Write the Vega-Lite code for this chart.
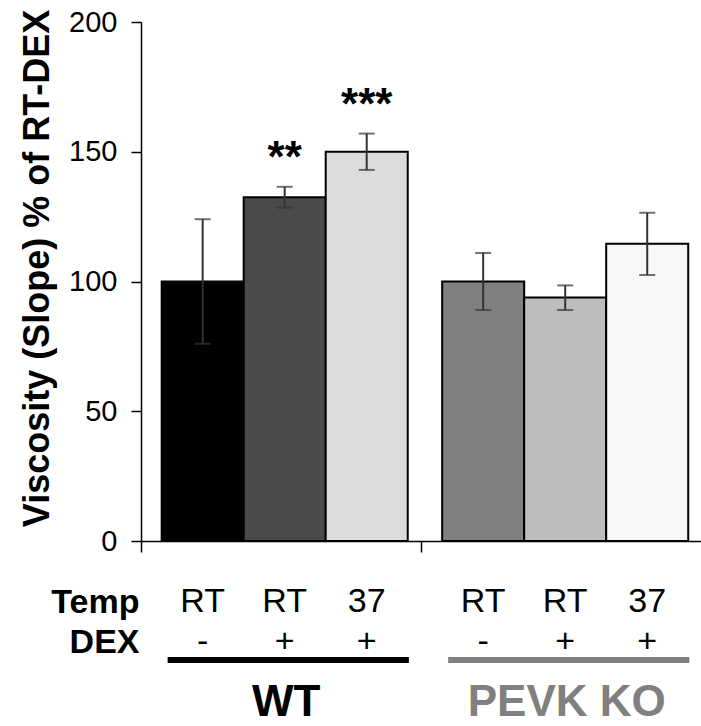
{
  "$schema": "https://vega.github.io/schema/vega-lite/v6.json",
  "background": "white",
  "padding": {"left": 18, "top": 8, "right": 0, "bottom": 0},
  "config": {
    "view": {"stroke": null},
    "font": "Liberation Sans",
    "axis": {"labelFont": "Liberation Sans", "titleFont": "Liberation Sans", "grid": false},
    "text": {"font": "Liberation Sans"}
  },
  "datasets": {
    "bars": [
      {"group": "WT", "cond": "RT-", "id": "WT RT-", "temp": "RT", "dex": "-", "mean": 100, "lo": 76, "hi": 124, "sig": ""},
      {"group": "WT", "cond": "RT+", "id": "WT RT+", "temp": "RT", "dex": "+", "mean": 132.5, "lo": 128.5, "hi": 136.5, "sig": "**"},
      {"group": "WT", "cond": "37+", "id": "WT 37+", "temp": "37", "dex": "+", "mean": 150, "lo": 143, "hi": 157, "sig": "***"},
      {"group": "PEVK KO", "cond": "RT-", "id": "KO RT-", "temp": "RT", "dex": "-", "mean": 100, "lo": 89, "hi": 111, "sig": ""},
      {"group": "PEVK KO", "cond": "RT+", "id": "KO RT+", "temp": "RT", "dex": "+", "mean": 93.8, "lo": 89, "hi": 98.5, "sig": ""},
      {"group": "PEVK KO", "cond": "37+", "id": "KO 37+", "temp": "37", "dex": "+", "mean": 114.5, "lo": 102.5, "hi": 126.5, "sig": ""}
    ],
    "groups": [
      {"group": "WT"},
      {"group": "PEVK KO"}
    ]
  },
  "bounds": "flush",
  "spacing": 36,
  "resolve": {"scale": {"color": "independent"}},
  "vconcat": [
    {
      "width": 561,
      "height": 519,
      "data": {"name": "bars"},
      "encoding": {
        "x": {"field": "group", "type": "nominal", "sort": ["WT", "PEVK KO"],
              "scale": {"domain": ["WT", "PEVK KO"], "paddingInner": 0, "paddingOuter": 0},
              "axis": {"title": null, "labels": false, "bandPosition": 0, "domainColor": "black", "domainWidth": 1.5, "tickColor": "black", "tickWidth": 1.5, "tickSize": 11}},
        "xOffset": {"field": "cond", "type": "nominal", "sort": ["RT-", "RT+", "37+"],
                    "scale": {"domain": ["RT-", "RT+", "37+"], "paddingInner": 0, "paddingOuter": 0.21, "align": 0.6}}
      },
      "layer": [
        {
          "mark": {"type": "bar", "stroke": "black", "strokeWidth": 2},
          "encoding": {
            "y": {"field": "mean", "type": "quantitative",
                  "scale": {"domain": [0, 200], "nice": false, "zero": true},
                  "title": "Viscosity (Slope) % of RT-DEX",
                  "axis": {"title": "Viscosity (Slope) % of RT-DEX", "values": [0, 50, 100, 150, 200],
                           "domainColor": "black", "domainWidth": 1.5, "tickColor": "black", "tickWidth": 1.5, "tickSize": 10,
                           "labelFontSize": 29, "labelColor": "black", "labelPadding": 14,
                           "titleFontSize": 36, "titleFontWeight": "bold", "titleColor": "black",
                           "titleX": -93, "titleY": 246, "titleBaseline": "alphabetic", "titleAngle": -90, "titleAlign": "center", "titleLimit": 0}},
            "color": {"field": "id", "type": "nominal",
                      "scale": {"domain": ["WT RT-", "WT RT+", "WT 37+", "KO RT-", "KO RT+", "KO 37+"],
                                "range": ["#000000", "#4a4a4a", "#dcdcdc", "#808080", "#bdbdbd", "#f7f7f7"]},
                      "legend": null}
          }
        },
        {
          "mark": {"type": "rule", "color": "#333333", "strokeWidth": 2},
          "encoding": {"y": {"field": "lo", "type": "quantitative"}, "y2": {"field": "hi"}}
        },
        {
          "mark": {"type": "tick", "color": "#333333", "thickness": 2, "size": 16},
          "encoding": {"y": {"field": "hi", "type": "quantitative"}}
        },
        {
          "mark": {"type": "tick", "color": "#333333", "thickness": 2, "size": 16},
          "encoding": {"y": {"field": "lo", "type": "quantitative"}}
        },
        {
          "mark": {"type": "text", "fontSize": 44, "fontWeight": "bold", "baseline": "alphabetic", "dy": -15, "color": "black"},
          "encoding": {"y": {"field": "hi", "type": "quantitative"}, "text": {"field": "sig"}}
        }
      ]
    },
    {
      "bounds": "flush",
      "spacing": 0,
      "vconcat": [
        {
          "width": 561,
          "height": 80,
          "data": {"name": "bars"},
          "encoding": {
            "x": {"field": "group", "type": "nominal", "sort": ["WT", "PEVK KO"],
                  "scale": {"domain": ["WT", "PEVK KO"], "paddingInner": 0, "paddingOuter": 0}, "axis": null},
            "xOffset": {"field": "cond", "type": "nominal", "sort": ["RT-", "RT+", "37+"],
                        "scale": {"domain": ["RT-", "RT+", "37+"], "paddingInner": 0, "paddingOuter": 0.21, "align": 0.6}}
          },
          "layer": [
            {
              "mark": {"type": "text", "fontSize": 34, "baseline": "middle", "dy": 5, "color": "black"},
              "encoding": {
                "y": {"datum": "Temp", "type": "nominal",
                      "scale": {"type": "point", "domain": ["Temp", "DEX"], "padding": 0.5},
                      "axis": {"title": null, "domain": false, "ticks": false, "labelFontSize": 34, "labelFontWeight": "bold", "labelColor": "black", "labelPadding": 2, "labelOffset": 5}},
                "text": {"field": "temp"}
              }
            },
            {
              "mark": {"type": "text", "fontSize": 34, "baseline": "middle", "dy": 5, "color": "black"},
              "encoding": {
                "y": {"datum": "DEX", "type": "nominal"},
                "text": {"field": "dex"}
              }
            }
          ]
        },
        {
          "width": 561,
          "height": 6,
          "data": {"name": "groups"},
          "mark": {"type": "rect", "width": {"band": 0.86}, "xOffset": 7},
          "encoding": {
            "x": {"field": "group", "type": "nominal", "sort": ["WT", "PEVK KO"],
                  "scale": {"domain": ["WT", "PEVK KO"], "paddingInner": 0, "paddingOuter": 0},
                  "axis": {"orient": "bottom", "title": null, "domain": false, "ticks": false, "tickSize": 0,
                           "labelAngle": 0, "labelAlign": "center", "labelFontSize": 44, "labelFontWeight": "bold", "labelPadding": 17, "labelBaseline": "top", "labelLimit": 0, "labelOffset": 5,
                           "labelColor": {"condition": {"test": "datum.value == 'WT'", "value": "#000000"}, "value": "#808080"}}},
            "color": {"field": "group", "type": "nominal",
                      "scale": {"domain": ["WT", "PEVK KO"], "range": ["#000000", "#808080"]}, "legend": null}
          }
        }
      ]
    }
  ]
}
